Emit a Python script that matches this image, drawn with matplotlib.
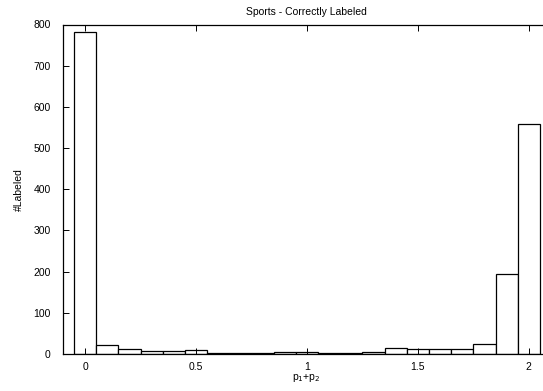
import numpy as np
import matplotlib
matplotlib.use("Agg")
import matplotlib.pyplot as plt

# ==================== DATA ====================

bin_centers = [0.0, 0.1, 0.2, 0.3, 0.4, 0.5, 0.6, 0.7, 0.8, 0.9, 1.0,
               1.1, 1.2, 1.3, 1.4, 1.5, 1.6, 1.7, 1.8, 1.9, 2.0]
counts = [781, 22, 11, 7, 7, 10, 3, 2, 2, 6, 6,
          3, 3, 6, 14, 12, 11, 13, 25, 194, 558]
x_ticks = [0, 0.5, 1, 1.5, 2]
x_ticklabels = ["0", "0.5", "1", "1.5", "2"]
y_ticks = [0, 100, 200, 300, 400, 500, 600, 700, 800]

# ==================== PLOT ====================

plt.rcParams['font.family'] = ['Liberation Sans', 'DejaVu Sans']
plt.rcParams['font.size'] = 7.5

fig = plt.figure(figsize=(5.43, 3.91), dpi=100)
# axes run slightly past the right edge of the canvas
ax = fig.add_axes([63 / 543, 1 - 354 / 391, 488 / 543, (354 - 24.5) / 391])

ax.bar(bin_centers, counts, width=0.1, align='center',
       facecolor='white', edgecolor='black', linewidth=0.9)

ax.set_xlim(-0.1, 2.1)
ax.set_ylim(0, 800)
ax.set_xticks(x_ticks)
ax.set_xticklabels(x_ticklabels)
ax.set_yticks(y_ticks)

ax.tick_params(direction='in', length=4, width=0.7, top=True, right=True,
               colors='black')
ax.tick_params(axis='y', pad=9)
ax.tick_params(axis='x', pad=6)
for side in ['left', 'bottom', 'top', 'right']:
    ax.spines[side].set_linewidth(0.9)

# axis labels and title placed in figure pixels
fig.text(306 / 543, 1 - 378 / 391, 'p$_1$+p$_2$', ha='center', va='center')
fig.text(19 / 543, 1 - 190 / 391, '#Labeled', ha='center', va='center',
         rotation=90)
fig.text(306 / 543, 1 - 12 / 391, 'Sports - Correctly Labeled',
         ha='center', va='center')

fig.savefig('out.png', dpi=100)
